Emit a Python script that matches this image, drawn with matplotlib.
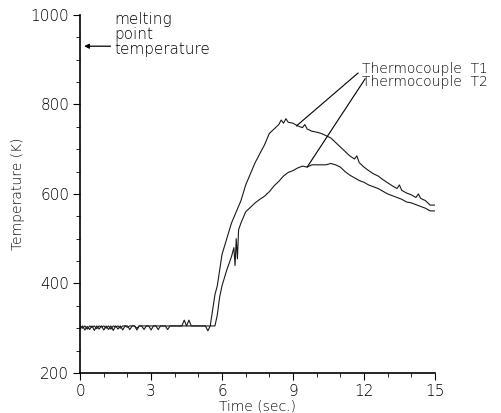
import numpy as np
import matplotlib
matplotlib.use("Agg")
import matplotlib.pyplot as plt

# ---- data ----
base_time = [round(0.1 * i, 1) for i in range(56)]
t1_base = [305, 300, 305, 298, 305, 302, 305, 299, 305, 303, 305, 300, 305, 298, 305, 303, 305, 300, 305, 305,
           302, 305, 305, 305, 300, 305, 305, 305, 305, 305, 305, 305, 305, 305, 305, 305, 305, 305, 305, 305,
           305, 305, 305, 305, 305, 305, 305, 305, 305, 305, 305, 305, 305, 305, 305, 305]
t2_base = [298, 305, 296, 304, 297, 305, 295, 305, 298, 305, 296, 305, 297, 305, 295, 305, 298, 305, 296, 305,
           305, 297, 305, 305, 296, 305, 305, 297, 305, 305, 296, 305, 305, 297, 305, 305, 305, 297, 305, 305,
           305, 305, 305, 305, 318, 305, 318, 305, 305, 305, 305, 305, 305, 305, 294, 305]

t1_time = [5.6, 5.7, 5.8, 6.0, 6.2, 6.4, 6.6, 6.8, 7.0, 7.2, 7.4, 7.6, 7.8, 8.0, 8.2, 8.4, 8.5, 8.6, 8.7, 8.8,
           9.0, 9.2, 9.4, 9.5, 9.6, 9.8, 10.0, 10.2, 10.4, 10.6, 10.8, 11.0, 11.2, 11.4, 11.6, 11.7, 11.8,
           12.0, 12.2, 12.4, 12.6, 12.8, 13.0, 13.2, 13.4, 13.5, 13.6, 13.8, 14.0, 14.2, 14.3, 14.4, 14.6,
           14.8, 15.0]
t1_temp = [340, 375, 395, 465, 500, 535, 560, 585, 620, 645, 670, 690, 710, 735, 745, 755, 765, 758, 768, 760,
           758, 752, 748, 755, 745, 740, 738, 735, 730, 725, 715, 705, 695, 685, 678, 685, 670,
           660, 652, 645, 640, 632, 625, 618, 612, 620, 608, 602, 598, 592, 600, 590, 585,
           575, 575]

t2_time = [5.6, 5.7, 5.8, 5.9, 6.0, 6.2, 6.4, 6.5, 6.55, 6.6, 6.65, 6.7, 6.8, 7.0, 7.2, 7.4, 7.6, 7.8, 8.0,
           8.2, 8.4, 8.6, 8.8, 9.0, 9.2, 9.4, 9.6, 9.8, 10.0, 10.4, 10.6, 10.8, 11.0, 11.2, 11.4, 11.6, 11.8,
           12.0, 12.2, 12.4, 12.6, 12.8, 13.0, 13.2, 13.4, 13.6, 13.8, 14.0, 14.2, 14.4, 14.6, 14.8, 15.0]
t2_temp = [305, 305, 330, 370, 395, 430, 460, 480, 440, 500, 455, 520, 535, 560, 570, 580, 588, 595, 605,
           618, 628, 640, 648, 652, 658, 662, 660, 665, 665, 665, 668, 665, 660, 650, 642, 636, 630,
           626, 620, 616, 612, 606, 600, 596, 592, 588, 582, 580, 576, 572, 568, 562, 562]

melting_point = 930
x_ticks = [0, 3, 6, 9, 12, 15]
y_ticks = [200, 400, 600, 800, 1000]

# ---- figure ----
plt.rcParams['font.family'] = ['DejaVu Sans']
fig = plt.figure(figsize=(5.01, 4.13), dpi=100)
ax = fig.add_axes([0.16, 0.097, 0.708, 0.867])

lc = '#1a1a1a'
ax.plot(base_time + t1_time, t1_base + t1_temp, color=lc, lw=0.8)
ax.plot(base_time + t2_time, t2_base + t2_temp, color=lc, lw=0.8)

ax.set_xlim(0, 15)
ax.set_ylim(200, 1000)
ax.set_xticks(x_ticks)
ax.set_yticks(y_ticks)
ax.set_xticks(np.arange(0, 16, 1), minor=True)
ax.set_yticks(np.arange(200, 1001, 50), minor=True)
ax.tick_params(axis='both', which='major', length=5, width=0.8, labelsize=11,
               color='black', labelcolor='black', pad=3)
ax.tick_params(axis='both', which='minor', length=3, width=0.6, color='black')
for lab in ax.get_xticklabels() + ax.get_yticklabels():
    lab.set_fontweight('light')
ax.spines['top'].set_visible(False)
ax.spines['right'].set_visible(False)
ax.spines['left'].set_linewidth(1.2)
ax.spines['bottom'].set_linewidth(1.2)

ax.set_xlabel('Time (sec.)', fontsize=10, fontweight='light', labelpad=0)
ax.set_ylabel('Temperature (K)', fontsize=10, fontweight='light', labelpad=4)

# melting point annotation
ax.annotate('', xy=(0.05, melting_point), xytext=(1.4, melting_point),
            arrowprops=dict(arrowstyle='-|>', color='black', lw=0.9, mutation_scale=7))
ax.text(1.45, 1006, 'melting\npoint\ntemperature', fontsize=11, fontweight='light',
        va='top', ha='left', linespacing=1.0)

# thermocouple labels
ax.text(11.9, 879, 'Thermocouple  T1', fontsize=10, fontweight='light', va='center', ha='left')
ax.text(11.9, 851, 'Thermocouple  T2', fontsize=10, fontweight='light', va='center', ha='left')
ax.plot([11.75, 9.15], [870, 752], color='black', lw=0.8)
ax.plot([12.05, 9.6], [857, 660], color='black', lw=0.8)

fig.savefig('out.png', dpi=100)
